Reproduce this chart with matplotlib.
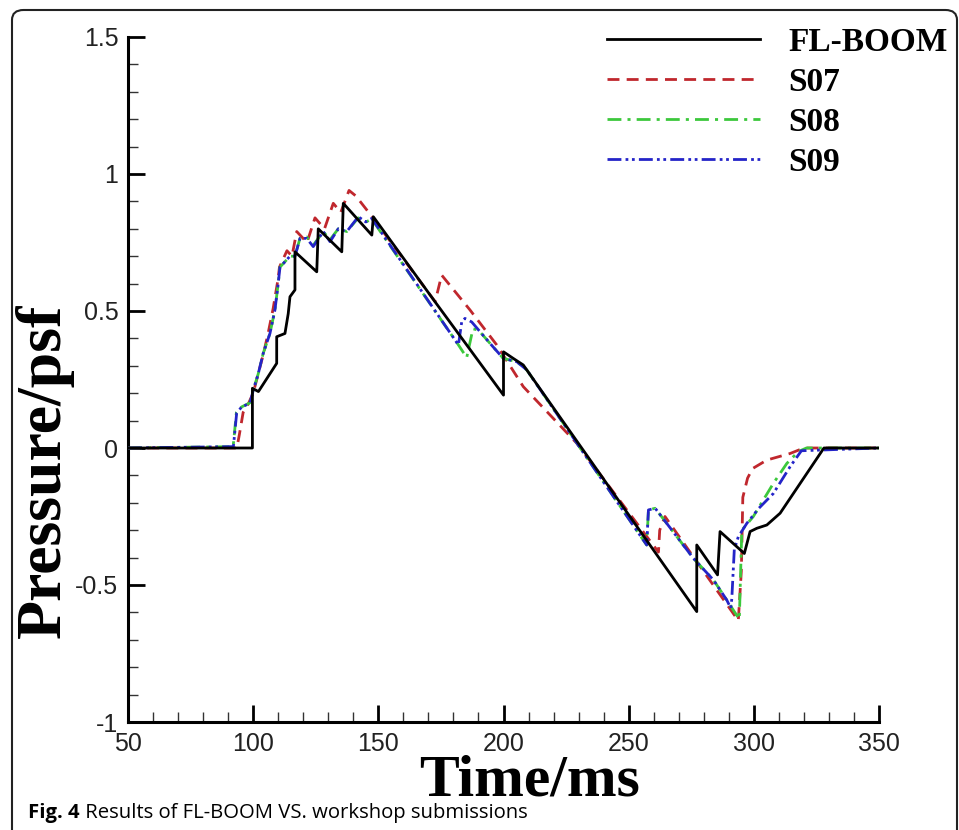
import matplotlib
matplotlib.use('Agg')
import matplotlib.pyplot as plt
from matplotlib.patches import FancyBboxPatch
from matplotlib.ticker import MultipleLocator, FixedLocator, FixedFormatter

plt.rcParams['font.family'] = ['Liberation Sans', 'DejaVu Sans']

# ---------------- data ----------------
fl_t = [50, 99.7, 99.7, 102.1, 109.4, 109.4, 112.7, 114.0, 114.7, 116.7, 116.7,
        125.4, 126.0, 135.4, 136.0, 147.4, 148.0, 172.7, 200.0, 200.0, 203.9,
        207.9, 277.2, 277.2, 285.5, 286.5, 296.2, 298.5, 301.2, 305.2, 310.5,
        328.0, 350]
fl_p = [0, 0, 0.218, 0.206, 0.309, 0.406, 0.418, 0.49, 0.552, 0.577, 0.716,
        0.643, 0.80, 0.716, 0.893, 0.777, 0.844, 0.533, 0.193, 0.351, 0.327,
        0.303, -0.597, -0.354, -0.463, -0.305, -0.385, -0.305, -0.293, -0.281, -0.238,
        0, 0]

s07_t = [50, 93.5, 94.5, 96, 98, 100, 102, 104, 106, 108, 110, 110.5, 113.5,
         115.5, 117.4, 121.5, 124.7, 128.5, 132.0, 135.0, 138.3, 141.0, 147.0,
         172.7, 175.3, 186.6, 197.3, 207.9, 229.3, 261.9, 262.4, 264.5, 293.8,
         295.0, 295.6, 297.5, 299.5, 305.2, 314.5, 320, 350]
s07_p = [0, 0, 0.05, 0.13, 0.16, 0.2, 0.27, 0.34, 0.42, 0.51, 0.62, 0.66, 0.72,
         0.70, 0.79, 0.75, 0.84, 0.80, 0.893, 0.86, 0.94, 0.92, 0.85,
         0.534, 0.631, 0.504, 0.376, 0.224, 0.017, -0.38, -0.30, -0.25, -0.63,
         -0.45, -0.18, -0.11, -0.075, -0.044, -0.02, 0, 0]

s08_t = [50, 92.0, 93.3, 95.4, 98.7, 100, 102, 104, 106.7, 108.7, 110, 110.7,
         114.7, 116.7, 118.7, 121.4, 124, 128, 130.7, 134, 137.4, 142, 145, 147.4,
         182, 185.3, 187.8, 190, 194.6, 199.9, 205.3, 209.3, 257.2, 257.9, 260.6,
         275.9, 283.9, 289.2, 294.2, 295.2, 299.8, 307.8, 313.2, 317.8, 321, 350]
s08_p = [0, 0.005, 0.13, 0.15, 0.165, 0.21, 0.27, 0.345, 0.418, 0.504, 0.6, 0.66,
         0.70, 0.70, 0.765, 0.77, 0.74, 0.79, 0.76, 0.80, 0.79, 0.84, 0.825, 0.835,
         0.376, 0.33, 0.435, 0.43, 0.382, 0.327, 0.315, 0.285, -0.354, -0.226, -0.22,
         -0.403, -0.482, -0.555, -0.625, -0.30, -0.25, -0.129, -0.056, -0.013, 0, 0]

s09_t = [50, 92.1, 93.4, 95.4, 98.7, 100, 102, 104, 106.7, 108.7, 110, 110.7,
         114.7, 116.7, 118.7, 121.4, 124, 128, 130.7, 134, 137.4, 142, 145, 147.4,
         182, 183.3, 184.6, 187.3, 194.6, 199.9, 205.3, 209.3, 257.2, 257.9, 260.6,
         275.9, 283.9, 289.2, 290.8, 291.2, 292.2, 293.8, 297.2, 302, 307.8, 314.5,
         319, 350]
s09_p = [0, 0.005, 0.127, 0.15, 0.163, 0.21, 0.27, 0.345, 0.418, 0.504, 0.6, 0.66,
         0.70, 0.70, 0.765, 0.765, 0.735, 0.79, 0.753, 0.80, 0.79, 0.844, 0.825, 0.838,
         0.376, 0.46, 0.473, 0.46, 0.382, 0.327, 0.315, 0.285, -0.354, -0.226, -0.22,
         -0.403, -0.482, -0.555, -0.585, -0.55, -0.37, -0.324, -0.275, -0.22, -0.166,
         -0.068, -0.01, 0]

x_ticks = [50, 100, 150, 200, 250, 300, 350]
x_tick_labels = ['50', '100', '150', '200', '250', '300', '350']
y_ticks = [-1, -0.5, 0, 0.5, 1, 1.5]
y_tick_labels = ['-1', '-0.5', '0', '0.5', '1', '1.5']
series_names = ['FL-BOOM', 'S07', 'S08', 'S09']

# ---------------- figure ----------------
W, H = 959, 830
fig = plt.figure(figsize=(W / 100, H / 100), dpi=100)
fig.patch.set_facecolor('white')

# rounded figure frame
frame = FancyBboxPatch((12 / W, -0.05), (957 - 12) / W, 1.05 - 10 / H,
                       boxstyle='round,pad=0,rounding_size=0.012',
                       transform=fig.transFigure, facecolor='none',
                       edgecolor='#222222', linewidth=1.5, clip_on=False)
fig.add_artist(frame)

ax = fig.add_axes([128 / W, 1 - 722 / H, 751 / W, 685 / H])

c_red = '#c0272d'
c_green = '#3cc83c'
c_blue = '#2424c8'

l07, = ax.plot(s07_t, s07_p, color=c_red, lw=2.0, dashes=(4.3, 2.6), zorder=3)
l08, = ax.plot(s08_t, s08_p, color=c_green, lw=2.0, dashes=(5, 2.2, 1.1, 2.2), zorder=3)
l09, = ax.plot(s09_t, s09_p, color=c_blue, lw=2.0,
               dashes=(5, 1.5, 1, 1.3, 1, 1.5), zorder=4)
lfl, = ax.plot(fl_t, fl_p, color='black', lw=2.0, zorder=5)

ax.set_xlim(50, 350)
ax.set_ylim(-1, 1.5)
ax.xaxis.set_major_locator(FixedLocator(x_ticks))
ax.xaxis.set_major_formatter(FixedFormatter(x_tick_labels))
ax.yaxis.set_major_locator(FixedLocator(y_ticks))
ax.yaxis.set_major_formatter(FixedFormatter(y_tick_labels))
ax.xaxis.set_minor_locator(MultipleLocator(10))
ax.yaxis.set_minor_locator(MultipleLocator(0.1))

for s in ['top', 'right']:
    ax.spines[s].set_visible(False)
for s in ['left', 'bottom']:
    ax.spines[s].set_linewidth(2.2)
    ax.spines[s].set_color('black')

ax.tick_params(which='major', direction='in', length=12, width=2.0,
               labelsize=18, pad=7, colors='black', labelcolor='#222222')
ax.tick_params(which='minor', direction='in', length=7, width=1.0, colors='#333333')

ax.set_xlabel('Time/ms', fontsize=43, fontweight='bold', family='Liberation Serif')
ax.xaxis.set_label_coords(0.535, -0.048)
ax.set_ylabel('Pressure/psf', fontsize=46, fontweight='bold', family='Liberation Serif')
ax.yaxis.set_label_coords(-0.072, 0.366)

leg = ax.legend([lfl, l07, l08, l09], series_names,
                loc='upper left', bbox_to_anchor=(607 / W, 1 - 27 / H),
                bbox_transform=fig.transFigure, frameon=False, borderpad=0,
                borderaxespad=0, handlelength=4.58, handletextpad=0.85,
                labelspacing=0.27,
                prop={'family': 'Liberation Serif', 'weight': 'bold', 'size': 24})

# caption
t1 = fig.text(28 / W, 1 - 818 / H, 'Fig. 4', fontsize=14.6, fontweight='bold',
              family='Open Sans', va='baseline', ha='left')
fig.canvas.draw()
ax.annotate(' Results of FL-BOOM VS. workshop submissions', xy=(1, 0),
            xycoords=t1, xytext=(0, 0), textcoords='offset points',
            va='bottom', ha='left', fontsize=14.6, family='Open Sans',
            annotation_clip=False)

fig.savefig('out.png', dpi=100, facecolor='white')
